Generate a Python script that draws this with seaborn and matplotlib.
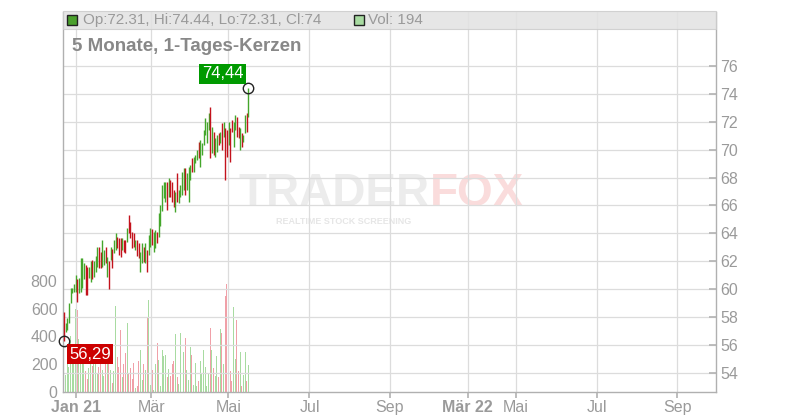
import numpy as np
import pandas as pd
import seaborn as sns
import matplotlib.pyplot as plt
from matplotlib.patches import Rectangle

# daily candles, Dec 2020 - May 2021
opens = [58.20, 57.00, 57.20, 57.70, 59.10, 59.75, 59.90, 59.90, 60.60, 59.80,
         59.90, 60.30, 60.80, 61.60, 61.50, 60.90, 60.60, 62.00, 61.00, 61.30,
         61.70, 62.90, 62.60, 61.70, 61.80, 63.00, 61.00, 61.90, 62.20, 62.80,
         62.70, 62.90, 63.70, 63.60, 63.60, 62.90, 63.40, 63.40, 63.50, 65.20,
         64.80, 64.00, 63.90, 62.90, 63.40, 63.20, 61.30, 61.90, 63.00, 61.90,
         62.70, 62.50, 63.10, 64.20, 62.80, 63.00, 64.00, 63.80, 64.60, 65.70,
         66.60, 66.30, 67.60, 66.70, 67.70, 67.60, 67.00, 65.60, 68.20, 66.20,
         66.70, 66.80, 67.20, 68.50, 67.20, 66.40, 67.90, 69.30, 68.50, 69.05,
         69.30, 70.50, 68.90, 69.70, 70.40, 71.10, 70.50, 71.50, 72.90, 69.80,
         71.20, 69.60, 69.90, 71.10, 70.50, 71.80, 71.00, 71.40, 71.30, 70.40,
         71.40, 72.10, 70.30, 71.50, 72.30, 71.60, 70.00, 71.10, 70.60, 71.20,
         72.50, 72.31]
highs = [58.40, 57.60, 57.90, 59.00, 60.10, 60.10, 60.40, 61.00, 60.70, 60.80,
         62.20, 62.20, 61.90, 61.70, 61.60, 61.60, 62.00, 62.10, 62.00, 62.40,
         63.00, 63.00, 62.70, 63.50, 62.80, 63.05, 62.30, 62.00, 63.05, 62.90,
         63.50, 64.00, 63.76, 63.67, 63.70, 63.67, 63.50, 63.50, 64.40, 65.30,
         64.84, 64.12, 64.00, 63.50, 63.50, 63.30, 62.70, 63.30, 63.05, 63.30,
         62.80, 63.90, 64.40, 64.30, 64.12, 64.24, 64.12, 65.45, 66.00, 67.47,
         67.71, 67.71, 67.71, 67.95, 67.83, 67.71, 67.11, 66.99, 68.31, 67.11,
         67.47, 68.43, 68.66, 68.66, 68.31, 68.78, 68.90, 69.38, 69.50, 69.62,
         69.98, 70.58, 70.70, 70.46, 71.40, 72.25, 72.00, 72.61, 73.09, 71.65,
         71.30, 70.82, 71.06, 71.18, 71.30, 71.89, 72.01, 71.54, 71.42, 72.01,
         71.54, 72.13, 72.01, 72.49, 72.37, 71.65, 71.54, 71.18, 71.06, 72.49,
         72.61, 74.44]
lows = [56.29, 56.90, 57.10, 57.60, 59.00, 59.70, 59.80, 59.80, 59.10, 59.70,
        59.80, 60.10, 60.70, 59.60, 59.60, 60.80, 60.50, 60.70, 60.90, 61.20,
        61.60, 61.50, 61.50, 61.60, 61.70, 61.86, 60.90, 60.00, 62.10, 61.50,
        62.60, 62.80, 62.93, 62.45, 62.30, 62.80, 62.70, 62.60, 63.40, 64.00,
        63.65, 62.93, 63.05, 62.80, 62.40, 62.20, 61.20, 61.86, 61.97, 61.86,
        61.20, 62.45, 63.00, 63.17, 62.69, 62.93, 63.29, 63.75, 64.50, 65.60,
        66.51, 66.27, 65.68, 66.63, 66.63, 66.27, 65.92, 65.56, 66.27, 66.15,
        66.63, 66.75, 67.11, 66.75, 67.11, 66.27, 67.83, 68.42, 68.42, 69.02,
        69.26, 69.38, 68.78, 69.62, 70.34, 71.06, 70.45, 71.42, 69.38, 69.74,
        69.62, 69.50, 69.86, 70.34, 70.46, 69.98, 70.94, 67.83, 69.50, 70.34,
        69.15, 71.30, 70.22, 71.42, 70.94, 70.82, 69.98, 70.22, 70.58, 71.18,
        71.30, 72.31]
closes = [56.80, 57.50, 57.80, 58.90, 60.00, 60.05, 60.30, 60.90, 59.30, 60.70,
          62.00, 62.00, 61.80, 59.80, 59.70, 61.50, 61.90, 60.80, 61.90, 62.30,
          62.90, 61.60, 61.60, 63.40, 62.70, 61.90, 62.20, 60.20, 63.00, 61.60,
          63.40, 63.90, 63.00, 62.50, 62.40, 63.60, 62.80, 62.70, 64.30, 64.10,
          63.70, 63.00, 63.10, 63.40, 62.50, 62.30, 62.60, 63.20, 62.00, 63.20,
          61.30, 63.80, 64.30, 63.20, 64.00, 64.10, 63.35, 65.40, 65.90, 67.40,
          67.60, 67.60, 65.80, 67.90, 66.70, 66.30, 66.00, 66.90, 66.40, 67.00,
          67.40, 68.30, 68.60, 66.80, 68.20, 68.70, 68.80, 68.50, 69.40, 69.60,
          69.90, 69.40, 70.60, 70.40, 71.30, 72.20, 71.90, 72.50, 69.50, 71.60,
          69.70, 70.80, 71.00, 70.40, 71.20, 70.00, 71.90, 68.00, 69.60, 71.90,
          69.30, 71.35, 71.90, 72.40, 71.00, 70.90, 71.50, 70.30, 71.00, 72.40,
          71.35, 74.00]
volumes = [195, 125, 250, 180, 400, 270, 330, 600, 590, 380,
           300, 220, 260, 150, 90, 175, 210, 190, 315, 200,
           140, 180, 300, 160, 115, 200, 210, 250, 160, 65,
           150, 620, 255, 180, 445, 110, 200, 280, 500, 140,
           170, 95, 210, 30, 45, 220, 305, 85, 200, 160,
           530, 660, 50, 155, 15, 205, 350, 230, 40, 300,
           260, 265, 110, 165, 115, 200, 220, 415, 110, 60,
           425, 195, 290, 385, 160, 85, 325, 265, 50, 210,
           40, 80, 225, 135, 300, 180, 45, 135, 460, 300,
           175, 115, 260, 110, 450, 425, 200, 690, 780, 300,
           150, 80, 615, 240, 515, 150, 290, 40, 120, 290,
           80, 194]

# x axis labels (positions in candle units)
tick_pos = [7.5, 52.6, 98.9, 147.7, 196.1, 243.0, 271.8, 320.6, 369.1]
tick_labels = ["Jan 21", "Mär", "Mai", "Jul", "Sep", "Mär 22", "Mai", "Jul", "Sep"]
bold_labels = ["Jan 21", "Mär 22"]
price_ticks = list(range(54, 77, 2))
vol_ticks = [0, 200, 400, 600, 800]

GREEN = "#44a62b"
RED = "#c3121c"
VOL_GREEN = "#a8dba1"
VOL_RED = "#f0a0a8"
GREY = "#9a9a9a"

sns.set_theme(style="white")
plt.rcParams["font.family"] = ["Liberation Sans", "DejaVu Sans"]

df = pd.DataFrame({"open": opens, "high": highs, "low": lows,
                   "close": closes, "volume": volumes})
df["idx"] = np.arange(len(df))
df["dir"] = np.where(df["close"] >= df["open"], "up", "down")

fig = plt.figure(figsize=(8, 4.2), dpi=100)
ax = fig.add_axes([63 / 800, 28 / 420, 653 / 800, 380 / 420])
axv = ax.twinx()
ax.set_zorder(axv.get_zorder() + 1)
ax.patch.set_visible(False)

# volume bars
sns.barplot(data=df, x="idx", y="volume", hue="dir",
            palette={"up": VOL_GREEN, "down": VOL_RED},
            native_scale=True, width=0.6, dodge=False, saturation=1,
            legend=False, errorbar=None, linewidth=0, ax=axv)
axv.set_ylim(0, 2734)
axv.set_xlabel("")
axv.set_ylabel("")
axv.yaxis.tick_left()
axv.set_yticks(vol_ticks)
axv.tick_params(axis="y", length=0, pad=4, labelcolor=GREY, labelsize=11.5)
for s in axv.spines.values():
    s.set_visible(False)

# candles
cols = np.where(df["dir"] == "up", GREEN, RED)
ax.vlines(df["idx"], df["low"], df["high"], colors=cols, linewidth=1.0, zorder=3)

ax.set_xlim(-0.6, 392.3)
ax.set_ylim(52.63, 79.87)
ax.yaxis.tick_right()
ax.set_yticks(price_ticks)
ax.tick_params(axis="y", direction="in", length=5, color="#b5b5b5",
               labelcolor=GREY, labelsize=11.5, pad=3, right=True, left=False)
ax.set_xticks(tick_pos, tick_labels)
ax.tick_params(axis="x", direction="out", length=4, color="#b5b5b5",
               labelcolor=GREY, labelsize=11.5, pad=2, bottom=True)
for lab in ax.get_xticklabels():
    if lab.get_text() in bold_labels:
        lab.set_fontweight("bold")
ax.grid(True, color="#dcdcdc", linewidth=0.9)
ax.set_axisbelow(True)
for side in ["left", "right", "bottom"]:
    ax.spines[side].set_color("#b0b0b0")
    ax.spines[side].set_linewidth(1)
ax.spines["top"].set_visible(False)

# watermark
ax.text(0.562, 0.52, "TRADER", transform=ax.transAxes, ha="right", va="center",
        fontsize=33, fontweight="bold", color="#ececec", zorder=0)
ax.text(0.562, 0.52, "FOX", transform=ax.transAxes, ha="left", va="center",
        fontsize=33, fontweight="bold", color="#fadcdc", zorder=0)
ax.text(0.43, 0.448, "REALTIME STOCK SCREENING", transform=ax.transAxes,
        ha="center", va="center", fontsize=6.5, fontweight="bold",
        color="#e6e6e6", zorder=0)

# header bar
ax.add_patch(Rectangle((0, 0.955), 1, 0.047, transform=ax.transAxes,
                       facecolor="#e2e2e2", edgecolor="#cccccc", linewidth=0.8,
                       alpha=0.85, zorder=5, clip_on=False))
last = df.iloc[-1]
ax.plot([0.0138], [0.979], marker="s", ms=7.5, mfc="#4aa02c", mec="#222222",
        mew=1, transform=ax.transAxes, clip_on=False, zorder=6)
ax.text(0.0306, 0.979,
        f"Op:{last['open']:g}, Hi:{last['high']:g}, Lo:{last['low']:g}, Cl:{last['close']:g}",
        transform=ax.transAxes, ha="left", va="center", fontsize=11,
        color=GREY, zorder=6)
ax.plot([0.4533], [0.979], marker="s", ms=7.5, mfc=VOL_GREEN, mec="#222222",
        mew=1, transform=ax.transAxes, clip_on=False, zorder=6)
ax.text(0.467, 0.979, f"Vol: {int(last['volume'])}", transform=ax.transAxes,
        ha="left", va="center", fontsize=11, color=GREY, zorder=6)

ax.text(0.0138, 0.908, "5 Monate, 1-Tages-Kerzen", transform=ax.transAxes,
        ha="left", va="center", fontsize=13.5, fontweight="bold",
        color="#888888", zorder=6)

# high / low markers
i_hi = int(df["high"].idxmax())
i_lo = int(df["low"].idxmin())
hi_val = df["high"].max()
lo_val = df["low"].min()
ax.plot([i_hi, i_lo], [hi_val, lo_val], "o", mfc="none", mec="#222222",
        ms=7.5, mew=1, zorder=7, clip_on=False)
ax.annotate(f"{hi_val:.2f}".replace(".", ","), xy=(i_hi, hi_val),
            xytext=(-26, 14), textcoords="offset pixels", ha="center",
            va="center", color="white", fontsize=12, zorder=8,
            bbox=dict(boxstyle="square,pad=0.15", fc="#009a00", ec="none"))
ax.annotate(f"{lo_val:.2f}".replace(".", ","), xy=(i_lo, lo_val),
            xytext=(26, -13.5), textcoords="offset pixels", ha="center",
            va="center", color="white", fontsize=12, zorder=8,
            bbox=dict(boxstyle="square,pad=0.15", fc="#cc0000", ec="none"))

fig.savefig("out.png", dpi=100)
